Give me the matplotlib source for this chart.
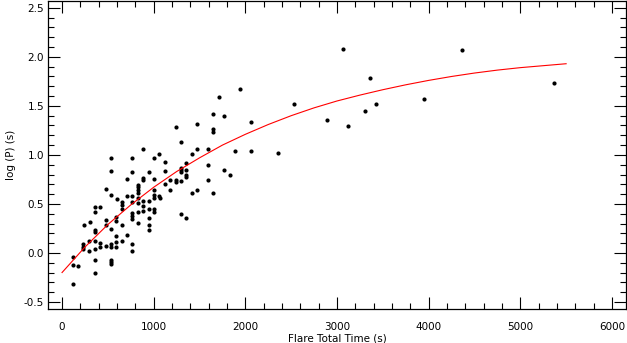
import matplotlib
matplotlib.use("Agg")
import matplotlib.pyplot as plt
from matplotlib.ticker import MultipleLocator

# Flare total time (s) and log(P) (s) for each event
flare_time = [1240, 1472, 1298, 887, 534, 767, 1055, 1003, 1472, 1589,
              1418, 534, 767, 945, 1123, 1123, 1352, 1298, 1298, 1352,
              1589, 712, 887, 887, 825, 825, 825, 825, 1003, 1181,
              1240, 1298, 1240, 1589, 476, 1123, 1352, 1356, 1181, 712,
              767, 767, 537, 596, 651, 651, 651, 825, 825, 887,
              945, 1003, 1003, 1003, 1061, 1065, 887, 887, 825, 767,
              767, 767, 945, 945, 1003, 1003, 825, 945, 945, 1298,
              1356, 1418, 1472, 360, 360, 417, 302, 236, 476, 476,
              589, 589, 651, 360, 360, 534, 709, 297, 232, 232,
              232, 356, 417, 417, 534, 534, 480, 592, 592, 651,
              767, 767, 356, 297, 120, 120, 177, 356, 356, 534,
              534, 534, 120, 2534, 1650, 1770, 2062, 1650, 1650, 1890,
              2062, 2360, 1767, 1829, 1298, 1650, 1712, 1945, 3360, 3422,
              3302, 2891, 3123, 4364, 5364, 3949, 3065, 589]
log_p = [1.28, 1.32, 1.13, 1.06, 0.97, 0.97, 1.01, 0.97, 1.06, 1.06,
         1.01, 0.84, 0.83, 0.83, 0.93, 0.84, 0.92, 0.85, 0.83, 0.85,
         0.90, 0.75, 0.76, 0.74, 0.69, 0.67, 0.64, 0.61, 0.75, 0.74,
         0.74, 0.73, 0.72, 0.74, 0.65, 0.70, 0.77, 0.79, 0.64, 0.58,
         0.58, 0.52, 0.59, 0.55, 0.52, 0.49, 0.45, 0.56, 0.51, 0.53,
         0.53, 0.59, 0.56, 0.64, 0.58, 0.56, 0.48, 0.43, 0.42, 0.41,
         0.38, 0.35, 0.45, 0.36, 0.45, 0.42, 0.31, 0.29, 0.23, 0.40,
         0.36, 0.61, 0.64, 0.47, 0.42, 0.47, 0.32, 0.28, 0.34, 0.28,
         0.37, 0.33, 0.28, 0.23, 0.21, 0.24, 0.18, 0.12, 0.09, 0.06,
         0.04, 0.12, 0.10, 0.06, 0.09, 0.06, 0.07, 0.11, 0.06, 0.12,
         0.09, 0.02, 0.04, 0.02, -0.04, -0.12, -0.13, -0.07, -0.20, -0.07,
         -0.09, -0.11, -0.32, 1.52, 1.42, 1.40, 1.34, 1.26, 1.23, 1.04,
         1.04, 1.02, 0.85, 0.79, 0.87, 0.61, 1.59, 1.67, 1.78, 1.52,
         1.45, 1.36, 1.29, 2.07, 1.73, 1.57, 2.08, 0.17]

# Fitted curve, values
fit_time = [0, 250, 500, 750, 1000, 1250, 1500, 1750, 2000, 2250, 2500,
            2750, 3000, 3250, 3500, 3750, 4000, 4250, 4500, 4750, 5000,
            5250, 5500]
fit_logp = [-0.20, 0.06, 0.29, 0.49, 0.67, 0.83, 0.97, 1.10, 1.21, 1.31,
            1.40, 1.48, 1.55, 1.61, 1.665, 1.715, 1.76, 1.80, 1.835, 1.865,
            1.89, 1.91, 1.93]

plt.rcParams['font.family'] = ['DejaVu Sans']

fig = plt.figure(figsize=(6.27, 3.43), dpi=100)
ax = fig.add_axes([48.3 / 627, 33.7 / 343, 577.4 / 627, 308.8 / 343])

ax.plot(flare_time, log_p, 'o', color='black', ms=3.0, mew=0)
ax.plot(fit_time, fit_logp, '-', color='#ff0000', lw=0.8)

ax.set_xlim(-150, 6150)
ax.set_ylim(-0.575, 2.575)
ax.xaxis.set_major_locator(MultipleLocator(1000))
ax.xaxis.set_minor_locator(MultipleLocator(200))
ax.yaxis.set_major_locator(MultipleLocator(0.5))
ax.yaxis.set_minor_locator(MultipleLocator(0.1))
ax.yaxis.set_major_formatter(matplotlib.ticker.FormatStrFormatter('%.1f'))

ax.tick_params(which='both', direction='in', top=True, right=True,
               width=0.8, colors='black', labelsize=7.5)
ax.tick_params(which='major', length=8.5)
ax.tick_params(which='minor', length=4.5)
ax.tick_params(axis='x', which='major', pad=9)
ax.tick_params(axis='y', which='major', pad=3)
for s in ax.spines.values():
    s.set_linewidth(0.9)

ax.set_xlabel('Flare Total Time (s)', fontsize=7.5, labelpad=1)
ax.set_ylabel('log (P) (s)', fontsize=7.5, labelpad=6)

fig.savefig('out.png', dpi=100)
